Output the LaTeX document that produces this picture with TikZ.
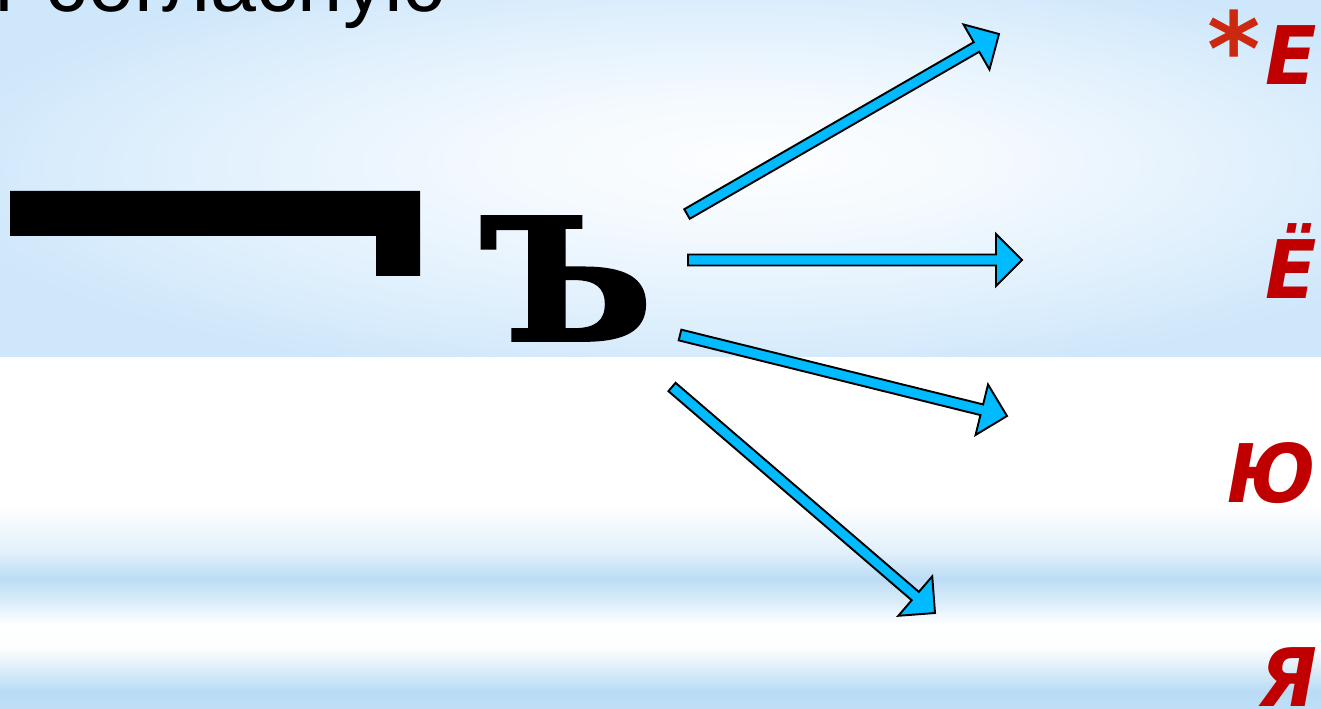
\documentclass[tikz,border=0pt]{standalone}
\usepackage{fontspec}
\setmainfont{Liberation Sans}
\newfontfamily\signfont[BoldFeatures={FakeBold=2.2}]{DejaVu Serif}
\newfontfamily\vowelfont{DejaVu Sans}
\usetikzlibrary{calc}
\definecolor{arrowblue}{RGB}{0,187,255}
\definecolor{vowelred}{RGB}{192,0,0}
\definecolor{starred}{RGB}{204,40,16}
\definecolor{skyedge}{RGB}{206,231,251}
\definecolor{bandblue}{RGB}{184,219,245}
\pgfdeclareverticalshading{bands}{100bp}{color(0bp)=(bandblue); color(25bp)=(bandblue!90!white); color(27.5bp)=(bandblue); color(33.5bp)=(white!95!bandblue); color(37bp)=(white); color(40.5bp)=(bandblue!55!white); color(43.5bp)=(bandblue!95!white); color(47.5bp)=(bandblue!40!white); color(54bp)=(white); color(100bp)=(white)}
\pgfdeclareradialshading{glow}{\pgfpoint{4bp}{3bp}}{color(0bp)=(white!96!skyedge); color(10bp)=(white!75!skyedge); color(20bp)=(white!40!skyedge); color(30bp)=(skyedge); color(50bp)=(skyedge)}
\def\blockarrow(#1)(#2){\coordinate (back) at ($(#2)!0.52cm!(#1)$);
\draw[line width=1.1pt, fill=arrowblue, line join=miter] ($(#1)!0.11cm!90:(#2)$) -- ($(back)!0.11cm!90:(#2)$) -- ($(back)!0.52cm!90:(#2)$) -- (#2) -- ($(back)!0.52cm!-90:(#2)$) -- ($(back)!0.11cm!-90:(#2)$) -- ($(#1)!0.11cm!-90:(#2)$) -- cycle;}
\tikzset{
  vowel/.style={anchor=base east, inner sep=0pt, xscale=0.93, text=vowelred, font=\vowelfont\bfseries\itshape\fontsize{46}{46}\selectfont}
}
\begin{document}
\begin{tikzpicture}[x=0.02cm, y=-0.02cm]
			%%%%% START %%%%%
			\useasboundingbox (0,0) rectangle (1321,709);
			\shade[shading=glow] (0,0) rectangle (1321,357);
			\shade[shading=bands] (0,357) rectangle (1321,709);
			
			\node[anchor=base east, inner sep=0pt, font=\fontsize{47}{47}\selectfont] (title) at (447,12) {т согласную};
			
			\fill[black] (10,191) -- (420,191) -- (420,276) -- (376,276) -- (376,236) -- (10,236) -- cycle;
			\node[anchor=base, inner sep=0pt, xscale=1.06, font=\signfont\bfseries\fontsize{96}{96}\selectfont] (hardsign) at (567,340) {Ъ};
			
			\node[anchor=base, inner sep=0pt, text=starred, font=\vowelfont\bfseries\fontsize{58}{58}\selectfont] (star) at (1234,86) {*};
			\node[vowel] (ye) at (1317,85) {Е};
			\node[vowel] (yo) at (1317,298) {Ё};
			\node[vowel] (yu) at (1316,502) {Ю};
			\node[vowel] (ya) at (1318,706) {Я};
			
			\coordinate (tail1) at (687,214); \coordinate (tip1) at (999,34);
			\coordinate (tail2) at (688,260); \coordinate (tip2) at (1022,260);
			\coordinate (tail3) at (680,335); \coordinate (tip3) at (1007,416);
			\coordinate (tail4) at (672,387); \coordinate (tip4) at (935,613);
			\blockarrow(tail1)(tip1)
			\blockarrow(tail2)(tip2)
			\blockarrow(tail3)(tip3)
			\blockarrow(tail4)(tip4)
			%%%%% END %%%%%
\end{tikzpicture}
\end{document}
